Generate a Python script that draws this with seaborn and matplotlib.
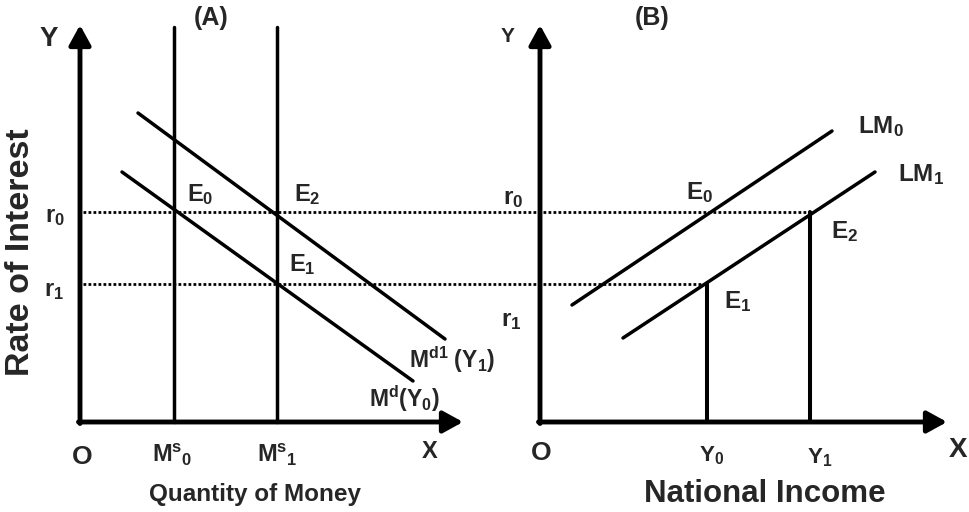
import pandas as pd
import seaborn as sns
import matplotlib.pyplot as plt

sns.set_theme(style="white")
plt.rcParams['font.family'] = ['Liberation Sans', 'DejaVu Sans']
plt.rcParams['font.weight'] = 'bold'
plt.rcParams['mathtext.fontset'] = 'custom'
plt.rcParams['mathtext.rm'] = 'Liberation Sans:bold'
plt.rcParams['mathtext.it'] = 'Liberation Sans:bold'
plt.rcParams['mathtext.bf'] = 'Liberation Sans:bold'
plt.rcParams['mathtext.default'] = 'rm'

# diagram coordinates (canvas units, origin bottom-left)
# panel A: money market
origin_a = (80, 90)
xaxis_end_a = 463
yaxis_end_a = 487
ms_x = [174, 277]                      # Ms0, Ms1
ms_top = 485
md0_x = [122, 413]
md0_y = [340, 131]                     # Md(Y0)
md1_x = [138, 445]
md1_y = [399, 173]                     # Md1(Y1)

# panel B: LM curve
origin_b = (540, 90)
xaxis_end_b = 947
yaxis_end_b = 487
lm0_x = [572, 832]
lm0_y = [207, 381]
lm1_x = [623, 875]
lm1_y = [174, 340]
inc_x = [707, 810]                     # Y0, Y1

# interest rates
r_levels = [300, 228]                  # r0, r1
r_ends = [810, 707]
r_start = 83

fig = plt.figure(figsize=(9.69, 5.12), dpi=100)
ax = fig.add_axes([0, 0, 1, 1])
ax.set_xlim(0, 969)
ax.set_ylim(0, 512)
ax.axis('off')

# solid curves
rows = []
def seg(name, xs, ys):
    for x, y in zip(xs, ys):
        rows.append({'seg': name, 'x': x, 'y': y})

seg('md0', md0_x, md0_y)
seg('md1', md1_x, md1_y)
seg('lm0', lm0_x, lm0_y)
seg('lm1', lm1_x, lm1_y)
for i, x in enumerate(ms_x):
    seg(f'ms{i}', [x, x], [origin_a[1], ms_top])
curves = pd.DataFrame(rows)
sns.lineplot(data=curves, x='x', y='y', units='seg', estimator=None,
             sort=False, color='black', lw=2.5, ax=ax, legend=False)

# verticals from LM to income axis
drops = pd.DataFrame({'seg': ['y0', 'y0', 'y1', 'y1'],
                      'x': [inc_x[0], inc_x[0], inc_x[1], inc_x[1]],
                      'y': [origin_b[1], r_levels[1], origin_b[1], r_levels[0]]})
sns.lineplot(data=drops, x='x', y='y', units='seg', estimator=None,
             sort=False, color='black', lw=2.9, ax=ax, legend=False)

# dotted interest rate lines
for lvl, end in zip(r_levels, r_ends):
    ax.plot([r_start, end], [lvl, lvl], color='black', lw=2.0,
            linestyle=(0, (1.0, 0.8)))

# axes with arrows
arrow = dict(arrowstyle='-|>,head_length=0.6,head_width=0.33', lw=3.5,
             color='black', mutation_scale=20, shrinkA=0, shrinkB=0)
for (ox, oy), xe, ye in [(origin_a, xaxis_end_a, yaxis_end_a),
                         (origin_b, xaxis_end_b, yaxis_end_b)]:
    ax.annotate('', xy=(xe, oy), xytext=(ox - 1.5, oy), arrowprops=arrow)
    ax.annotate('', xy=(ox, ye), xytext=(ox, oy - 1.5), arrowprops=arrow)

def lab(x, y, s, size=15, **kw):
    ax.text(x, y, s, fontsize=size, fontweight='bold', ha='center',
            va='center', **kw)

# panel A labels
lab(49, 473, 'Y', 20)
lab(211, 494, '(A)', 18)
lab(200, 317, r'E$_0$', 17)
lab(307, 317, r'E$_2$', 17)
lab(302, 247, r'E$_1$', 17)
lab(55, 296, r'r$_0$', 17)
lab(54, 222, r'r$_1$', 17)
lab(21, 260, 'Rate of Interest', 24.5, rotation=90)
lab(82, 55, 'O', 19)
lab(172, 57, r'M$^{\rm s}{}_{0}$', 17)
lab(277, 57, r'M$^{\rm s}{}_{1}$', 17)
lab(430, 60, 'X', 17)
lab(255, 18, 'Quantity of Money', 17.5)
lab(452, 152, r'M$^{\rm d1}$ (Y$_1$)', 16.5)
lab(404, 113, r'M$^{\rm d}$(Y$_0$)', 16.5)

# panel B labels
lab(508, 476, 'Y', 15)
lab(652, 494, '(B)', 18)
lab(881, 385, r'LM$_0$', 17.5)
lab(921, 337, r'LM$_1$', 17.5)
lab(700, 319, r'E$_0$', 17.5)
lab(845, 280, r'E$_2$', 17.5)
lab(738, 210, r'E$_1$', 17.5)
lab(513, 314, r'r$_0$', 17.5)
lab(511, 192, r'r$_1$', 17.5)
lab(541, 59, 'O', 19)
lab(712, 56, r'Y$_0$', 16)
lab(820, 54, r'Y$_1$', 16)
lab(958, 62, 'X', 20)
lab(765, 18, 'National Income', 22.5)

fig.savefig('out.png', dpi=100, facecolor='white')
